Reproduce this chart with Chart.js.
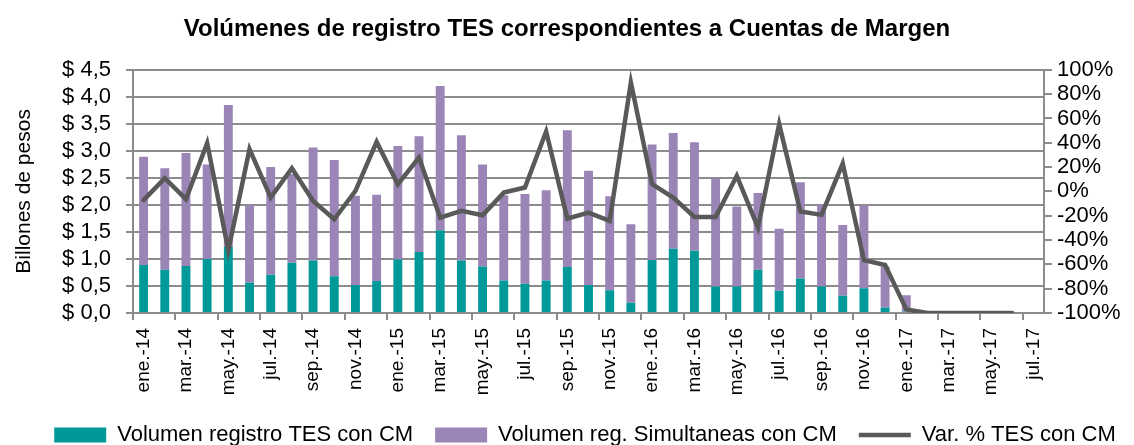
<!DOCTYPE html>
<html>
<head>
<meta charset="utf-8">
<script src="https://cdn.jsdelivr.net/npm/chart.js@4.4.0/dist/chart.umd.min.js"></script>
<style>
html,body{margin:0;padding:0;background:#fff;}
#wrap{width:1134px;height:445px;position:relative;}
</style>
</head>
<body>
<div id="wrap"><canvas id="c"></canvas></div>
<script>
const categories = [
 'ene.-14','feb.-14','mar.-14','abr.-14','may.-14','jun.-14','jul.-14','ago.-14','sep.-14','oct.-14','nov.-14','dic.-14',
 'ene.-15','feb.-15','mar.-15','abr.-15','may.-15','jun.-15','jul.-15','ago.-15','sep.-15','oct.-15','nov.-15','dic.-15',
 'ene.-16','feb.-16','mar.-16','abr.-16','may.-16','jun.-16','jul.-16','ago.-16','sep.-16','oct.-16','nov.-16','dic.-16',
 'ene.-17','feb.-17','mar.-17','abr.-17','may.-17','jun.-17','jul.-17'
];
// Billones de pesos
const volTES = [0.89,0.80,0.87,1.00,1.22,0.56,0.71,0.93,0.97,0.68,0.52,0.59,
 0.99,1.13,1.53,0.97,0.86,0.60,0.54,0.60,0.85,0.52,0.42,0.19,
 0.98,1.19,1.15,0.49,0.49,0.80,0.41,0.64,0.49,0.32,0.46,0.10,
 0.03,0,0,0,0,0,0];
const volSimultaneas = [2.00,1.88,2.09,1.75,2.63,1.44,1.99,1.64,2.09,2.15,1.65,1.60,
 2.10,2.14,2.67,2.32,1.89,1.58,1.66,1.67,2.53,2.11,1.74,1.45,
 2.14,2.14,2.01,2.00,1.48,1.42,1.15,1.78,1.52,1.31,1.53,0.76,
 0.30,0,0,0,0,0,0];
// Var. % (right axis)
const varTES = [-7.2,10.8,-6.4,39.7,-48.4,34.7,-5.1,19.1,-7.8,-22.9,0.4,40.7,
 5.9,27.8,-21.6,-16,-19.6,-1,3.2,49.2,-22.4,-17.4,-24.3,89.6,
 5.9,-5.1,-21,-21,12.8,-29.8,55.3,-16.6,-19.3,22.9,-56.6,-60.5,
 -97,-100,-100,-100,-100,-100,null];
const leftTicks = [0,0.5,1,1.5,2,2.5,3,3.5,4,4.5];
const rightTicks = [-100,-80,-60,-40,-20,0,20,40,60,80,100];

const FONT = "'Liberation Sans',Arial,sans-serif";
const GRID = '#8c8c8c';

const shiftLegend = {
  id:'shiftLegend',
  afterLayout(chart){ if(chart.legend){ chart.legend.left += 18; chart.legend.right += 18; } }
};

new Chart(document.getElementById('c'), {
  data: {
    labels: categories,
    datasets: [
      {type:'bar', label:'Volumen registro TES con CM', data: volTES, backgroundColor:'#009999',
       yAxisID:'y', stack:'s', order:1, barPercentage:0.42, categoryPercentage:1, pointStyle:'rect'},
      {type:'bar', label:'Volumen reg. Simultaneas con CM', data: volSimultaneas, backgroundColor:'#9b85b6',
       yAxisID:'y', stack:'s', order:1, barPercentage:0.42, categoryPercentage:1, pointStyle:'rect'},
      {type:'line', label:'Var. % TES con CM', data: varTES, borderColor:'#595959', backgroundColor:'#595959',
       borderWidth:4.5, pointRadius:0, tension:0, yAxisID:'y1', order:0, pointStyle:'line', borderCapStyle:'round'}
    ]
  },
  plugins:[shiftLegend],
  options: {
    responsive:true, maintainAspectRatio:false, animation:false,
    layout:{padding:{left:0,right:0,top:0,bottom:-11}},
    plugins:{
      title:{display:true, text:'Volúmenes de registro TES correspondientes a Cuentas de Margen',
        color:'#000', font:{family:FONT, size:24, weight:'bold'}, padding:{top:15,bottom:26}},
      legend:{position:'bottom', labels:{color:'#000', font:{family:FONT, size:22}, usePointStyle:true,
        pointStyleWidth:52, boxHeight:15, padding:22,
        sort:(a,b)=>a.datasetIndex-b.datasetIndex}},
      tooltip:{enabled:false}
    },
    scales:{
      x:{stacked:true, offset:true,
        border:{display:true, color:GRID, width:2},
        grid:{offset:true, drawOnChartArea:false, drawTicks:true, tickLength:7, lineWidth:2,
          color:(ctx)=> (ctx.index%2===0 ? GRID : 'rgba(0,0,0,0)')},
        ticks:{autoSkip:false, maxRotation:90, minRotation:90, color:'#000', padding:8,
          font:{family:FONT, size:19},
          callback:function(v,i){return i%2===0 ? this.getLabelForValue(v) : '';}},
        afterFit:(s)=>{s.height=89;}
      },
      y:{position:'left', stacked:true, min:0, max:4.5,
        border:{display:true, color:GRID, width:2},
        grid:{color:GRID, lineWidth:2, tickLength:7},
        afterBuildTicks:(s)=>{s.ticks = leftTicks.map(v=>({value:v}));},
        ticks:{autoSkip:false, color:'#000', font:{family:FONT, size:22}, padding:15,
          callback:(v)=>'$ '+Number(v).toFixed(1).replace('.',',')},
        title:{display:true, text:'Billones de pesos', color:'#000', font:{family:FONT, size:21}, padding:{top:12,bottom:0}},
        afterFit:(s)=>{s.width=133;}
      },
      y1:{position:'right', min:-100, max:100,
        border:{display:true, color:GRID, width:2},
        grid:{drawOnChartArea:false, color:GRID, lineWidth:2, tickLength:8},
        afterBuildTicks:(s)=>{s.ticks = rightTicks.map(v=>({value:v}));},
        ticks:{autoSkip:false, color:'#000', font:{family:FONT, size:22}, padding:5, callback:(v)=>v+'%'},
        afterFit:(s)=>{s.width=90;}
      }
    }
  }
});
</script>
</body>
</html>
